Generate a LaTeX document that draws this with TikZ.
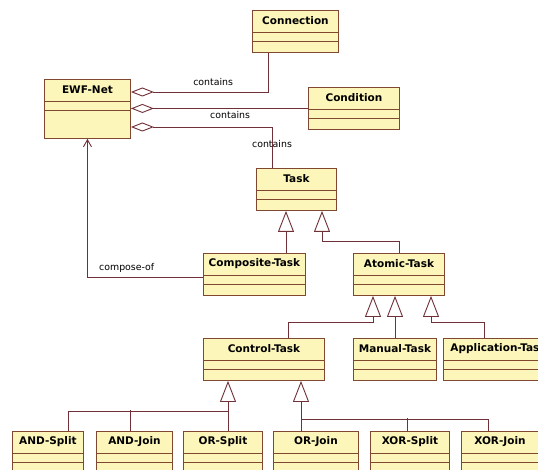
\documentclass[tikz,border=0pt]{standalone}
\usepackage{fontspec}
\setmainfont{DejaVu Sans}
\usepackage{xcolor}
\usepackage{tikz}
\usetikzlibrary{arrows.meta,calc,positioning}
\definecolor{classfill}{RGB}{253,246,186}
\definecolor{classedge}{RGB}{128,72,48}
\definecolor{linkline}{RGB}{112,48,56}
\tikzstyle{classbox} = [draw=classedge, fill=classfill, line width=0.9pt,
    rectangle, inner sep=0pt, anchor=north west]
\tikzstyle{classname} = [font=\fontsize{10.5}{12}\selectfont\bfseries, inner sep=0pt]
\tikzstyle{classline} = [draw=classedge, line width=0.9pt]
\tikzstyle{link} = [draw=linkline, line width=0.9pt]
\tikzstyle{aggr} = [link, -{Diamond[open, length=23pt, width=9pt]}]
\tikzstyle{gen} = [link, -{Triangle[open, length=21pt, width=16pt]}]
\tikzstyle{nav} = [link, -{Straight Barb[length=7pt, width=8pt]}]
\tikzstyle{linklabel} = [font=\fontsize{9.4}{11}\selectfont, inner sep=1pt]
% class box: id, x, y, width, height, name
\newcommand{\umlclass}[6]{%
  \node[classbox, minimum width=#4pt, minimum height=#5pt] (#1) at (#2,#3) {};
  \node[classname] (#1-name) at ([yshift=-11pt]#1.north) {#6};
  \draw[classline] ([yshift=-22pt]#1.north west) -- ([yshift=-22pt]#1.north east);
  \draw[classline] ([yshift=-31pt]#1.north west) -- ([yshift=-31pt]#1.north east);
}

\begin{document}
\begin{tikzpicture}[x=1pt, y=-1pt]
\useasboundingbox (0,0) rectangle (538,470);
\fill[white] (0,0) rectangle (538,470);
\clip (0,0) rectangle (538,470);

% classes
\umlclass{conn}{252}{10}{86}{42}{Connection}
\umlclass{ewf}{44}{79}{86}{59}{EWF-Net}
\umlclass{cond}{308}{87}{91}{42}{Condition}
\umlclass{task}{256}{168}{80}{42}{Task}
\umlclass{comp}{203}{253}{102}{42}{Composite-Task}
\umlclass{atom}{353}{253}{91}{42}{Atomic-Task}
\umlclass{ctrl}{203}{338}{121}{42}{Control-Task}
\umlclass{manual}{353}{338}{83}{42}{Manual-Task}
\umlclass{app}{443}{338}{110}{42}{Application-Task}
\umlclass{asplit}{12}{431}{71}{42}{AND-Split}
\umlclass{ajoin}{96}{431}{76}{42}{AND-Join}
\umlclass{osplit}{183}{431}{79}{42}{OR-Split}
\umlclass{ojoin}{273}{431}{85}{42}{OR-Join}
\umlclass{xsplit}{370}{431}{79}{42}{XOR-Split}
\umlclass{xjoin}{461}{431}{77}{42}{XOR-Join}

% aggregations
\draw[aggr] ([xshift=16pt]conn.south west) |- node[linklabel, pos=0.7, above=5pt]{contains} ([yshift=-13pt]ewf.north east);
\draw[aggr] (cond.west) -- node[linklabel, pos=0.44, below=1pt]{contains} (cond.west -| ewf.east);
\draw[aggr] ([xshift=16pt]task.north west) |- node[linklabel, pos=0.29]{contains} ([yshift=-48pt]ewf.north east);
\draw[nav] ([yshift=-24pt]comp.north west) -| node[linklabel, pos=0.33, above=3pt]{compose-of} (ewf.south);

% generalizations
\coordinate (tA) at ([xshift=30pt]task.south west);
\draw[gen] (tA |- comp.north) -- (tA);
\draw[gen] (atom.north) -- ++(0,-12) -| ([xshift=66pt]task.south west);

\coordinate (aA) at ([xshift=20pt]atom.south west);
\coordinate (aB) at ([xshift=42pt]atom.south west);
\coordinate (aC) at ([xshift=78pt]atom.south west);
\draw[gen] ([xshift=-36pt]ctrl.north east) -- ++(0,-16) -| (aA);
\draw[gen] (aB |- manual.north) -- (aB);
\draw[gen] ([xshift=41pt]app.north west) -- ++(0,-16) -| (aC);

\coordinate (cA) at ([xshift=25pt]ctrl.south west);
\coordinate (cB) at ([xshift=98pt]ctrl.south west);
\coordinate (busA) at ([yshift=-31pt]ctrl.south west);
\coordinate (busB) at ([yshift=-39pt]ctrl.south west);
\draw[link] ([xshift=56pt]asplit.north west) |- (busA -| cA);
\draw[link] ([xshift=34pt]ajoin.north west) -- ++(0,-21);
\draw[gen] (cA |- osplit.north) -- (cA);
\draw[gen] (cB |- ojoin.north) -- (cB);
\draw[link] ([xshift=37pt]xsplit.north west) -- ++(0,-13);
\draw[link] ([xshift=27pt]xjoin.north west) |- (busB -| cB);
\end{tikzpicture}
\end{document}
